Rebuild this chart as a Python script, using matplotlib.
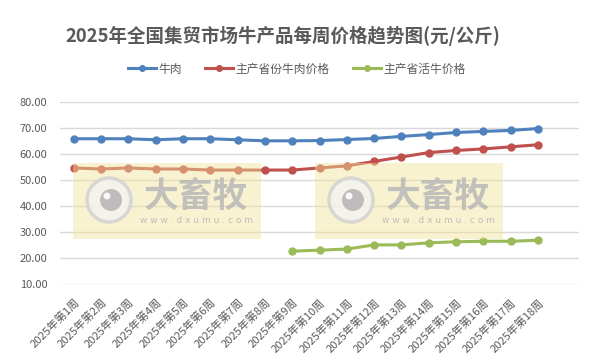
import numpy as np
import matplotlib
matplotlib.use("Agg")
import matplotlib.pyplot as plt
from matplotlib.patches import Rectangle, Circle

plt.rcParams['font.family'] = ['Noto Sans CJK SC', 'DejaVu Sans']

# data
weeks = ["2025年第%d周" % i for i in range(1, 19)]
beef = [65.8, 65.8, 65.8, 65.4, 65.8, 65.8, 65.4, 65.0, 65.0,
        65.1, 65.5, 65.9, 66.7, 67.4, 68.2, 68.6, 69.0, 69.7]
prov_beef = [54.6, 54.2, 54.6, 54.2, 54.2, 53.8, 53.8, 53.8, 53.8,
             54.6, 55.4, 57.1, 58.8, 60.5, 61.3, 61.9, 62.7, 63.5]
live_cattle = [np.nan] * 8 + [22.7, 23.1, 23.5, 25.1, 25.1, 25.9, 26.3, 26.5, 26.5, 26.9]
series_names = ["牛肉", "主产省份牛肉价格", "主产省活牛价格"]
colors = ["#4F81BD", "#C0504D", "#9BBB59"]
yticks = [10, 20, 30, 40, 50, 60, 70, 80]

W, H = 596, 364
fig = plt.figure(figsize=(W / 100, H / 100), dpi=100)
ax = fig.add_axes([60 / W, 1 - 284.3 / H, (579 - 60) / W, (284.3 - 101.7) / H])

x = np.arange(len(weeks))
for vals, name, c in zip([beef, prov_beef, live_cattle], series_names, colors):
    ax.plot(x, vals, color=c, lw=2.2, marker='o', ms=5, label=name, zorder=3)

ax.set_xlim(-0.5, len(weeks) + 0.5)
ax.set_ylim(10, 80)
ax.set_yticks(yticks)
ax.set_yticklabels(["%.2f" % v for v in yticks], fontsize=8, color="#595959")
ax.set_xticks(x)
ax.set_xticklabels(weeks, rotation=45, ha='right', va='top', rotation_mode='anchor',
                   fontsize=8, color="#595959")
ax.tick_params(axis='both', length=0)
ax.tick_params(axis='x', pad=9)
ax.tick_params(axis='y', pad=9)
ax.grid(axis='y', color="#D9D9D9", lw=1)
for s in ax.spines.values():
    s.set_visible(False)
ax.set_axisbelow(True)

fig.text(283 / W, 1 - 36 / H, "2025年全国集贸市场牛产品每周价格趋势图(元/公斤)",
         ha='center', va='center', fontsize=13.3, fontweight='bold', color="#595959")
fig.legend(loc='center', bbox_to_anchor=(296.5 / W, 1 - 69 / H), ncol=3, frameon=False,
           fontsize=8.5, handlelength=2.4, columnspacing=2.0, handletextpad=0.15,
           markerscale=0.8, labelcolor="#595959")

# watermarks
for dx in [0, 242]:
    fig.patches.append(Rectangle(((73 + dx) / W, 1 - 239 / H), 188 / W, 76 / H,
                                 transform=fig.transFigure, color="#F2E49A", alpha=0.45,
                                 lw=0, zorder=5))
    fig.patches.append(Circle((109 + dx, H - 200), 22, transform=None, fc="#F4F4F0",
                              ec="#D0D0D0", lw=2.5, alpha=0.8, zorder=6))
    fig.patches.append(Circle((111 + dx, H - 200), 11, transform=None, fc="#B8B8B8",
                              ec="none", alpha=0.9, zorder=7))
    fig.patches.append(Circle((107 + dx, H - 196), 3.5, transform=None, fc="white",
                              ec="none", alpha=0.9, zorder=8))
    fig.text((196 + dx) / W, 1 - 196 / H, "大畜牧", ha='center', va='center',
             fontsize=25, fontweight='bold', color="#B8B8B8", alpha=0.85, zorder=8)
    fig.text((196 + dx) / W, 1 - 221 / H, "w w w . d x u m u . c o m", ha='center',
             va='center', fontsize=6.5, color="#B8B8B8", alpha=0.9, zorder=8,
             family='DejaVu Sans')

fig.savefig("out.png", dpi=100)
